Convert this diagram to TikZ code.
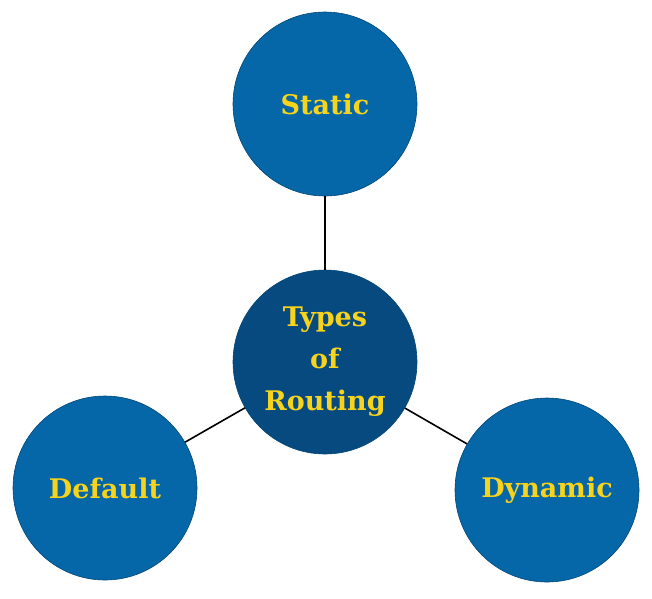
\documentclass[tikz,border=0pt]{standalone}
\usepackage{fontspec}
\setmainfont{DejaVu Serif}
\definecolor{outerc}{HTML}{0566A8}
\definecolor{innerc}{HTML}{064A80}
\definecolor{txt}{HTML}{F7D31C}
\begin{document}
\begin{tikzpicture}[x=1pt,y=-1pt,
  circ/.style={circle,minimum size=184pt,inner sep=0pt,fill=outerc,draw=outerc!70!black,line width=0.6pt,text=txt,font=\fontsize{27}{42}\selectfont\bfseries,align=center},
  link/.style={line width=1.6pt,black}]
\useasboundingbox (0,0) rectangle (652,598);
\node[circ] (s) at (325,104) {Static};
\node[circ,fill=innerc] (c) at (325,362) {Types\\of\\Routing};
\node[circ] (d) at (105,488) {Default};
\node[circ] (y) at (547,490) {Dynamic};
\draw[link] (c) -- (s);
\draw[link] (c) -- (d);
\draw[link] (c) -- (y);
\end{tikzpicture}
\end{document}
